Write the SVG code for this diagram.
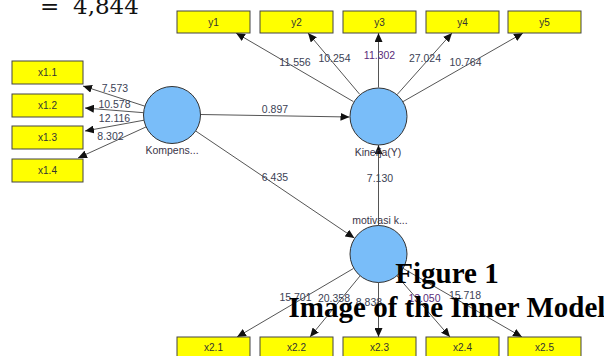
<svg xmlns="http://www.w3.org/2000/svg" width="604" height="356" viewBox="0 0 604 356">
  <style>
    .box { fill: #ffff00; stroke: #444; stroke-width: 1; }
    .lv { fill: #79bdf9; stroke: #333; stroke-width: 1; }
    .bt { font-family: "Liberation Sans", Arial, sans-serif; font-size: 10px; fill: #333; text-anchor: middle; }
    .nl { font-family: "Liberation Sans", Arial, sans-serif; font-size: 10.5px; fill: #3a3548; text-anchor: middle; }
    .el { font-family: "Liberation Sans", Arial, sans-serif; font-size: 10.5px; fill: #3b3f55; text-anchor: middle; }
    .ep { fill: #5a2d7a; }
    .edge { stroke: #555; stroke-width: 1; fill: none; marker-end: url(#arrow); }
    .cap { font-family: "Liberation Serif", "Times New Roman", serif; font-weight: bold; font-size: 29px; fill: #000; text-anchor: middle; }
    .eq { font-family: "DejaVu Serif", "Liberation Serif", serif; font-size: 23px; fill: #111; }
  </style>
  <defs>
    <marker id="arrow" markerUnits="userSpaceOnUse" markerWidth="10" markerHeight="8" refX="9" refY="4" orient="auto">
      <path d="M0,0 L9,4 L0,8 Z" fill="#111"/>
    </marker>
  </defs>

  <rect width="604" height="356" fill="#fff"/>

  <!-- leftover equation line above the figure -->
  <text class="eq" x="40" y="14">=</text>
  <text class="eq" x="73" y="14">4,844</text>

  <!-- connectors -->
  <g id="connectors">
    <line class="edge" x1="353.4" y1="101.6" x2="236" y2="33"/>
    <line class="edge" x1="359.6" y1="94.2" x2="308" y2="33"/>
    <line class="edge" x1="378.5" y1="87.5" x2="378.5" y2="33"/>
    <line class="edge" x1="397" y1="94.7" x2="452" y2="33"/>
    <line class="edge" x1="402.7" y1="101.8" x2="523" y2="33"/>

    <line class="edge" x1="144.9" y1="106.2" x2="83" y2="86"/>
    <line class="edge" x1="143.6" y1="112.7" x2="85" y2="108"/>
    <line class="edge" x1="144" y1="120.2" x2="85" y2="131"/>
    <line class="edge" x1="146.1" y1="126.9" x2="78" y2="158"/>

    <line class="edge" x1="200.5" y1="114.5" x2="349.5" y2="117"/>
    <line class="edge" x1="195.7" y1="131" x2="354.4" y2="238.1"/>
    <line class="edge" x1="378.5" y1="225.5" x2="378.5" y2="145"/>

    <line class="edge" x1="353.4" y1="268.5" x2="237" y2="337"/>
    <line class="edge" x1="359.9" y1="276.1" x2="310" y2="337"/>
    <line class="edge" x1="378.5" y1="282.5" x2="378.5" y2="337"/>
    <line class="edge" x1="396.7" y1="275.5" x2="450" y2="337"/>
    <line class="edge" x1="402.7" y1="268.2" x2="522" y2="337"/>
  </g>

  <!-- edge weights -->
  <g id="edge-labels">
    <text class="el" x="115" y="91.7">7.573</text>
    <text class="el" x="114.5" y="107.7">10.578</text>
    <text class="el" x="114.5" y="121.7">12.116</text>
    <text class="el" x="110.5" y="139.7">8.302</text>
    <text class="el" x="295" y="65.7">11.556</text>
    <text class="el" x="334.5" y="61.7">10.254</text>
    <text class="el ep" x="379.5" y="58.7">11.302</text>
    <text class="el" x="425" y="61.7">27.024</text>
    <text class="el" x="465.5" y="65.7">10.764</text>
    <text class="el" x="275" y="112.7">0.897</text>
    <text class="el" x="275" y="180.7">6.435</text>
    <text class="el" x="380" y="181.7">7.130</text>
    <text class="el" x="295.5" y="300.7">15.701</text>
    <text class="el" x="334" y="301.7">20.358</text>
    <text class="el" x="369" y="305.7">8.838</text>
    <text class="el ep" x="424.5" y="301.7">13.050</text>
    <text class="el" x="465" y="298.7">15.718</text>
  </g>

  <!-- indicators of Kinerja -->
  <g id="y1"><rect class="box" x="177" y="11" width="73" height="22"/><text class="bt" x="213.5" y="25.5">y1</text></g>
  <g id="y2"><rect class="box" x="260" y="11" width="73" height="22"/><text class="bt" x="296.5" y="25.5">y2</text></g>
  <g id="y3"><rect class="box" x="343" y="11" width="73" height="22"/><text class="bt" x="379.5" y="25.5">y3</text></g>
  <g id="y4"><rect class="box" x="426" y="11" width="73" height="22"/><text class="bt" x="462.5" y="25.5">y4</text></g>
  <g id="y5"><rect class="box" x="508" y="11" width="73" height="22"/><text class="bt" x="544.5" y="25.5">y5</text></g>

  <!-- indicators of Kompensasi -->
  <g id="x1-1"><rect class="box" x="12" y="61" width="71" height="23"/><text class="bt" x="47.5" y="76">x1.1</text></g>
  <g id="x1-2"><rect class="box" x="12" y="94" width="71" height="23"/><text class="bt" x="47.5" y="109">x1.2</text></g>
  <g id="x1-3"><rect class="box" x="12" y="126" width="71" height="23"/><text class="bt" x="47.5" y="141">x1.3</text></g>
  <g id="x1-4"><rect class="box" x="12" y="159" width="71" height="23"/><text class="bt" x="47.5" y="174">x1.4</text></g>

  <!-- indicators of motivasi -->
  <g id="x2-1"><rect class="box" x="177" y="337" width="73" height="22"/><text class="bt" x="213.5" y="351">x2.1</text></g>
  <g id="x2-2"><rect class="box" x="260" y="337" width="73" height="22"/><text class="bt" x="296.5" y="351">x2.2</text></g>
  <g id="x2-3"><rect class="box" x="343" y="337" width="73" height="22"/><text class="bt" x="379.5" y="351">x2.3</text></g>
  <g id="x2-4"><rect class="box" x="426" y="337" width="73" height="22"/><text class="bt" x="462.5" y="351">x2.4</text></g>
  <g id="x2-5"><rect class="box" x="508" y="337" width="73" height="22"/><text class="bt" x="544.5" y="351">x2.5</text></g>

  <!-- latent variables -->
  <g id="kompensasi">
    <circle class="lv" cx="172" cy="115" r="28.5"/>
    <text class="nl" x="172" y="153.5">Kompens...</text>
  </g>
  <g id="kinerja">
    <circle class="lv" cx="378.5" cy="116.5" r="28.5"/>
    <text class="nl" x="378" y="155.5">Kinerja(Y)</text>
  </g>
  <g id="motivasi">
    <circle class="lv" cx="378.5" cy="254" r="28.5"/>
    <text class="nl" x="380" y="223.5">motivasi k...</text>
  </g>

  <!-- caption -->
  <text class="cap" x="447" y="283">Figure 1</text>
  <text class="cap" x="447" y="317">Image of the Inner Model</text>
</svg>
